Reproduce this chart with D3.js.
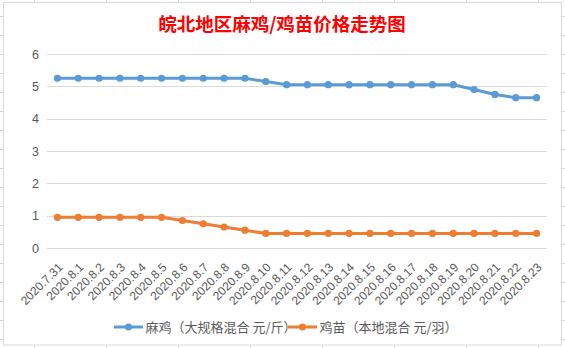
<!DOCTYPE html>
<html><head><meta charset="utf-8">
<script src="https://cdn.jsdelivr.net/npm/d3@7"></script>
<style>html,body{margin:0;padding:0;background:#fff;overflow:hidden}</style>
</head><body>
<svg id="c" width="565" height="348"></svg>
<script>
const categories = ["2020.7.31","2020.8.1","2020.8.2","2020.8.3","2020.8.4","2020.8.5","2020.8.6","2020.8.7","2020.8.8","2020.8.9","2020.8.10","2020.8.11","2020.8.12","2020.8.13","2020.8.14","2020.8.15","2020.8.16","2020.8.17","2020.8.18","2020.8.19","2020.8.20","2020.8.21","2020.8.22","2020.8.23"];
const maji = [5.25,5.25,5.25,5.25,5.25,5.25,5.25,5.25,5.25,5.25,5.15,5.05,5.05,5.05,5.05,5.05,5.05,5.05,5.05,5.05,4.9,4.75,4.65,4.65];
const jimiao = [0.95,0.95,0.95,0.95,0.95,0.95,0.85,0.75,0.65,0.55,0.45,0.45,0.45,0.45,0.45,0.45,0.45,0.45,0.45,0.45,0.45,0.45,0.45,0.45];
const yTicks = [0,1,2,3,4,5,6];
const seriesNames = ["麻鸡（大规格混合 元/斤）","鸡苗（本地混合 元/羽）"];
const title = "皖北地区麻鸡/鸡苗价格走势图";
const colors = ["#5B9BD5","#ED7D31"];

const svg = d3.select("#c");
// spreadsheet background stubs
const sheet = svg.append("g");
d3.range(16, 348, 19).forEach(y => {
  sheet.append("line").attr("x1",0).attr("x2",3).attr("y1",y+0.5).attr("y2",y+0.5).attr("stroke","#d4d4d4");
  sheet.append("line").attr("x1",562).attr("x2",565).attr("y1",y+0.5).attr("y2",y+0.5).attr("stroke","#d4d4d4");
});
d3.range(34, 565, 72).forEach(x => {
  sheet.append("line").attr("x1",x+0.5).attr("x2",x+0.5).attr("y1",0).attr("y2",2).attr("stroke","#d4d4d4");
  sheet.append("line").attr("x1",x+0.5).attr("x2",x+0.5).attr("y1",345).attr("y2",348).attr("stroke","#d4d4d4");
});
// chart frame
svg.append("rect").attr("x",3.5).attr("y",2.5).attr("width",558).attr("height",342.5)
  .attr("fill","#fff").attr("stroke","#d9d9d9");

const x = d3.scaleBand().domain(categories).range([47,547]);
const y = d3.scaleLinear().domain([0,6]).range([248,54]);

// gridlines
svg.append("g").selectAll("line").data(yTicks).join("line")
  .attr("x1",47).attr("x2",547)
  .attr("y1",d=>Math.round(y(d))+0.5).attr("y2",d=>Math.round(y(d))+0.5)
  .attr("stroke","#d9d9d9").attr("stroke-width",1);

// y axis labels
const yAxis = d3.axisLeft(y).tickValues(yTicks).tickFormat(d3.format("d")).tickSize(0).tickPadding(0);
const gy = svg.append("g").attr("transform","translate(39,0)").call(yAxis);
gy.select(".domain").remove();
gy.selectAll("text").attr("font-family","'Liberation Sans', Arial, sans-serif").attr("font-size",12.5).attr("fill","#595959");

// x axis labels
const xAxis = d3.axisBottom(x).tickSize(0).tickPadding(0);
const gx = svg.append("g").attr("transform","translate(0,248)").call(xAxis);
gx.select(".domain").remove();
gx.selectAll("text")
  .attr("font-family","'Liberation Sans', Arial, sans-serif").attr("font-size",12).attr("fill","#595959")
  .attr("text-anchor","end").attr("dy","0.35em").attr("y",0)
  .attr("transform","translate(3,17) rotate(-45)");

// series
const line = d3.line().x((d,i)=>x(categories[i])+x.bandwidth()/2).y(d=>y(d));
[maji, jimiao].forEach((s,k) => {
  svg.append("path").datum(s).attr("d",line).attr("fill","none")
    .attr("stroke",colors[k]).attr("stroke-width",3).attr("stroke-linejoin","round");
  svg.append("g").selectAll("circle").data(s).join("circle")
    .attr("cx",(d,i)=>x(categories[i])+x.bandwidth()/2).attr("cy",d=>y(d)).attr("r",3.6)
    .attr("fill",colors[k]);
});

// title
svg.append("text").attr("x",282).attr("y",31).attr("text-anchor","middle")
  .attr("font-family","'Noto Sans CJK SC', sans-serif").attr("font-weight",700)
  .attr("font-size",18.5).attr("fill","#ff0000").text(title);

// legend
const legX = [114, 288];
seriesNames.forEach((n,k) => {
  const g = svg.append("g").attr("transform",`translate(${legX[k]},327)`);
  g.append("line").attr("x1",0).attr("x2",29).attr("y1",0).attr("y2",0).attr("stroke",colors[k]).attr("stroke-width",3);
  g.append("circle").attr("cx",14.5).attr("cy",0).attr("r",3.6).attr("fill",colors[k]);
  g.append("text").attr("x",31.5).attr("y",0).attr("dy","0.36em")
    .attr("font-family","'Noto Sans CJK SC', sans-serif").attr("font-size",13).attr("fill","#595959").text(n);
});
</script>
</body></html>
